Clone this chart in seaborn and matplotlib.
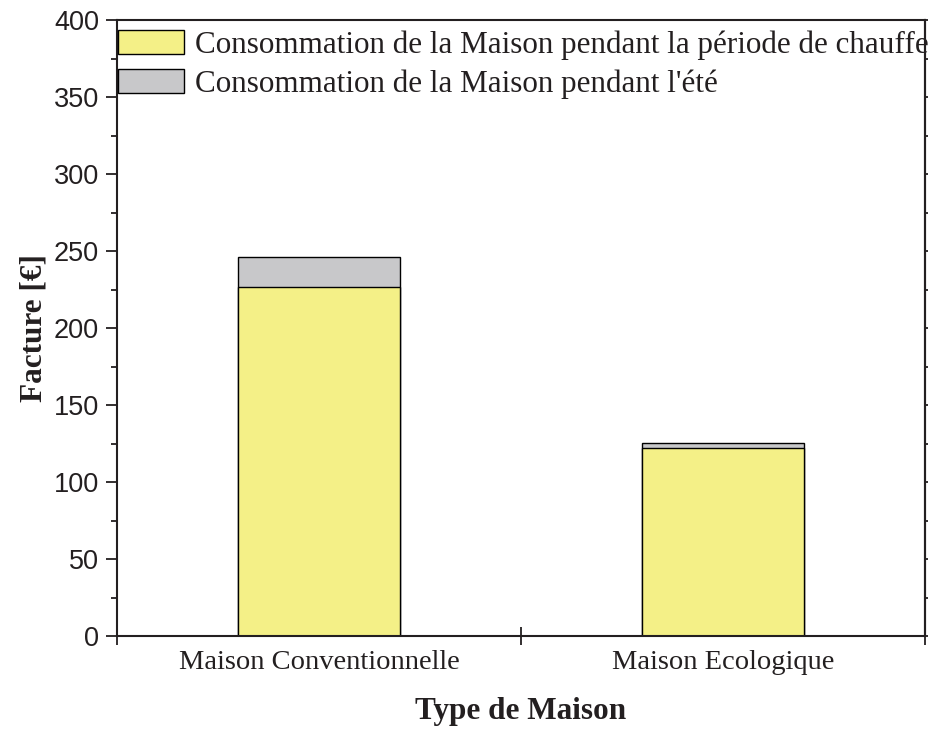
import matplotlib
matplotlib.use('Agg')
import matplotlib.pyplot as plt
import matplotlib.patches as mpatches
import seaborn as sns
import numpy as np
import pandas as pd

# valeurs
categories = ['Maison Conventionnelle', 'Maison Ecologique']
chauffe = [226.6, 122.0]
ete = [19.4, 3.5]
labels = ["Consommation de la Maison pendant la période de chauffe",
          "Consommation de la Maison pendant l'été"]

jaune = '#F4F087'
gris = '#C8C8CA'
noir = '#231f20'

sns.set_style('ticks')
plt.rcParams['font.family'] = ['Liberation Serif', 'DejaVu Serif']
plt.rcParams['text.color'] = noir
plt.rcParams['axes.labelcolor'] = noir
plt.rcParams['xtick.color'] = noir
plt.rcParams['ytick.color'] = noir

df = pd.DataFrame({'type': categories,
                   'chauffe': chauffe,
                   'total': np.add(chauffe, ete)})

fig = plt.figure(figsize=(9.3, 7.31), dpi=100)
ax = fig.add_axes([117/930, 95/731, 808/930, 616/731])

# barres empilées : total (gris) puis chauffe (jaune) par dessus
sns.barplot(data=df, x='type', y='total', color=gris, saturation=1,
            width=0.4, edgecolor='black', linewidth=1, ax=ax)
sns.barplot(data=df, x='type', y='chauffe', color=jaune, saturation=1,
            width=0.4, edgecolor='black', linewidth=1, ax=ax)

ax.set_xlim(-0.5, 1.5)
ax.set_ylim(0, 400)

for s in ax.spines.values():
    s.set_visible(True)
    s.set_linewidth(1.5)
    s.set_color(noir)

# axe x : graduations entre les catégories, étiquettes au centre
ax.set_xticks([-0.5, 0.5, 1.5])
ax.set_xticklabels(['', '', ''])
ax.set_xticks([0, 1], minor=True)
ax.set_xticklabels(categories, minor=True, fontsize=20.5)
ax.tick_params(axis='x', which='major', direction='inout', length=13, width=1.3)
ax.tick_params(axis='x', which='minor', length=0, pad=10)

# axe y
ax.set_yticks(np.arange(0, 401, 50))
ax.set_yticks(np.arange(0, 401, 25), minor=True)
ax.tick_params(axis='y', which='major', direction='out', length=8, width=1.3,
               labelsize=19.5, pad=5)
ax.tick_params(axis='y', which='minor', direction='out', length=4.5, width=1.3)
for t in ax.get_yticklabels():
    t.set_fontfamily('Liberation Sans')

droite = ax.secondary_yaxis('right')
droite.set_yticks(np.arange(0, 401, 25))
droite.set_yticklabels([])
droite.tick_params(length=2, width=1.3)
droite.spines['right'].set_linewidth(1.5)
droite.spines['right'].set_color(noir)

ax.set_xlabel('Type de Maison', fontsize=22.5, fontweight='bold', labelpad=16)
ax.set_ylabel('Facture [€]', fontsize=22.5, fontweight='bold', labelpad=4)

handles = [mpatches.Patch(facecolor=jaune, edgecolor='black', linewidth=1),
           mpatches.Patch(facecolor=gris, edgecolor='black', linewidth=1)]
ax.legend(handles, labels, loc='upper left', bbox_to_anchor=(-0.009, 0.997),
          frameon=False, fontsize=22.4, borderaxespad=0.05, borderpad=0.2,
          handlelength=2.15, handleheight=0.85, handletextpad=0.33,
          labelspacing=0.28)

fig.savefig('out.png', dpi=100)
